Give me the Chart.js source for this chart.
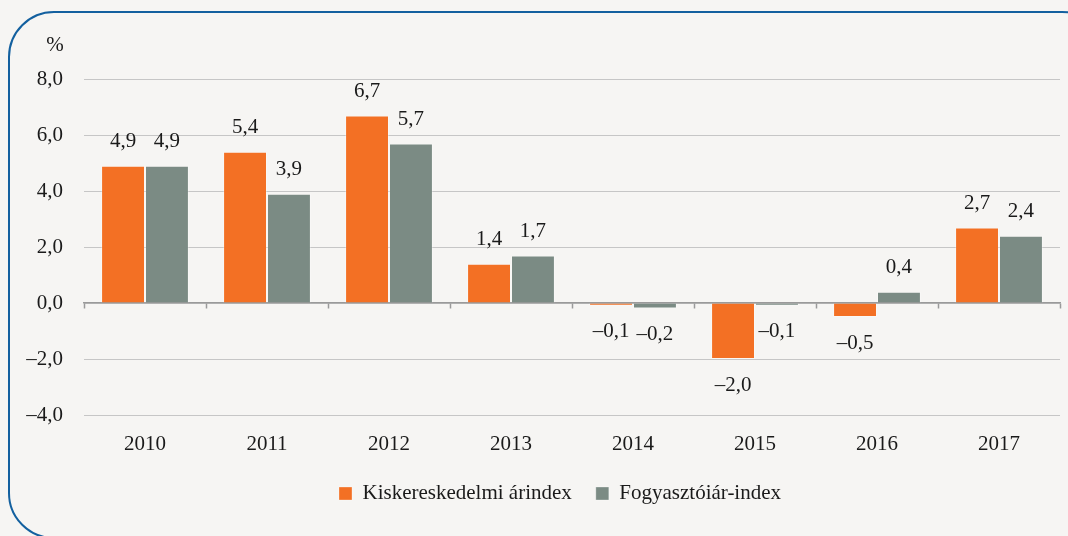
<!DOCTYPE html>
<html>
<head>
<meta charset="utf-8">
<script src="https://cdn.jsdelivr.net/npm/chart.js@4.4.1/dist/chart.umd.min.js"></script>
<style>
  html, body { margin: 0; padding: 0; background: #F6F5F3; }
  #wrap { position: relative; width: 1068px; height: 536px; overflow: hidden; background: #F6F5F3; }
  #frame { position: absolute; left: 8px; top: 11px; width: 1100px; height: 528px; border: 2px solid #13609F; border-radius: 46px; box-sizing: border-box; }
  #c { position: absolute; left: 0; top: 0; }
</style>
</head>
<body>
<div id="wrap">
  <div id="frame"></div>
  <canvas id="c" width="1068" height="536"></canvas>
</div>
<script>
const categories = ['2010', '2011', '2012', '2013', '2014', '2015', '2016', '2017'];
const retailPriceIndex = [4.9, 5.4, 6.7, 1.4, -0.1, -2.0, -0.5, 2.7];
const consumerPriceIndex = [4.9, 3.9, 5.7, 1.7, -0.2, -0.1, 0.4, 2.4];
const seriesNames = ['Kiskereskedelmi árindex', 'Fogyasztóiár-index'];
const yTicks = [-4, -2, 0, 2, 4, 6, 8];
const unitLabel = '%';

const FONT = '"Liberation Serif", "DejaVu Serif", serif';
const fmt = (v, d) => v.toFixed(d).replace('.', ',').replace('-', '\u2013');

const labelPlugin = {
  id: 'barLabels',
  afterLayout(chart) {
    if (chart.legend) { chart.legend.left -= 12; chart.legend.right -= 12; }
  },
  afterDatasetsDraw(chart) {
    const ctx = chart.ctx;
    ctx.save();
    ctx.font = '21px ' + FONT;
    ctx.fillStyle = '#1a1a1a';
    ctx.textAlign = 'center';
    ctx.textBaseline = 'middle';
    chart.data.datasets.forEach((ds, di) => {
      const meta = chart.getDatasetMeta(di);
      meta.data.forEach((el, i) => {
        const v = ds.data[i];
        const y = v >= 0 ? el.y - 24 : el.y + 26;
        ctx.fillText(fmt(v, 1), el.x, y);
      });
    });
    const ys = chart.scales.y;
    ctx.fillText(unitLabel, ys.right - 29, ys.getPixelForValue(8) - 34);
    ctx.restore();
  }
};

new Chart(document.getElementById('c'), {
  type: 'bar',
  data: {
    labels: categories,
    datasets: [
      { label: seriesNames[0], data: retailPriceIndex, backgroundColor: '#F37024', borderColor: 'rgba(255,255,255,0.3)', borderWidth: 1 },
      { label: seriesNames[1], data: consumerPriceIndex, backgroundColor: '#7B8B84', borderColor: 'rgba(255,255,255,0.3)', borderWidth: 1 }
    ]
  },
  options: {
    responsive: false,
    animation: false,
    devicePixelRatio: 1,
    layout: { padding: { top: 79, right: 8, left: 0, bottom: 22 } },
    datasets: { bar: { categoryPercentage: 0.72, barPercentage: 1.0 } },
    plugins: {
      tooltip: { enabled: false },
      legend: {
        position: 'bottom',
        fullSize: false,
        labels: {
          boxWidth: 13, boxHeight: 13, padding: 24,
          color: '#1a1a1a',
          font: { family: FONT, size: 21 }
        }
      }
    },
    scales: {
      y: {
        min: -4, max: 8,
        afterBuildTicks: (s) => { s.ticks = yTicks.map(v => ({ value: v })); },
        afterFit: (s) => { s.width = 84; },
        border: { display: false },
        grid: { color: '#C6C6C6', lineWidth: 1, drawTicks: false },
        ticks: {
          padding: 21,
          color: '#1a1a1a',
          font: { family: FONT, size: 21 },
          callback: (v) => fmt(v, 1)
        }
      },
      x: {
        position: 'bottom',
        afterFit: (s) => { s.height = 44; },
        border: { display: false },
        grid: { display: false },
        ticks: { padding: 9, color: '#1a1a1a', font: { family: FONT, size: 21 } }
      },
      xZero: {
        type: 'category',
        position: { y: 0 },
        z: 1,
        border: { display: true, color: '#9A9A9A', width: 1.5 },
        grid: { display: true, offset: true, drawOnChartArea: false, drawTicks: true, tickLength: 5, color: '#9A9A9A', tickWidth: 1.5 },
        ticks: { display: false }
      }
    }
  },
  plugins: [labelPlugin]
});
</script>
</body>
</html>
